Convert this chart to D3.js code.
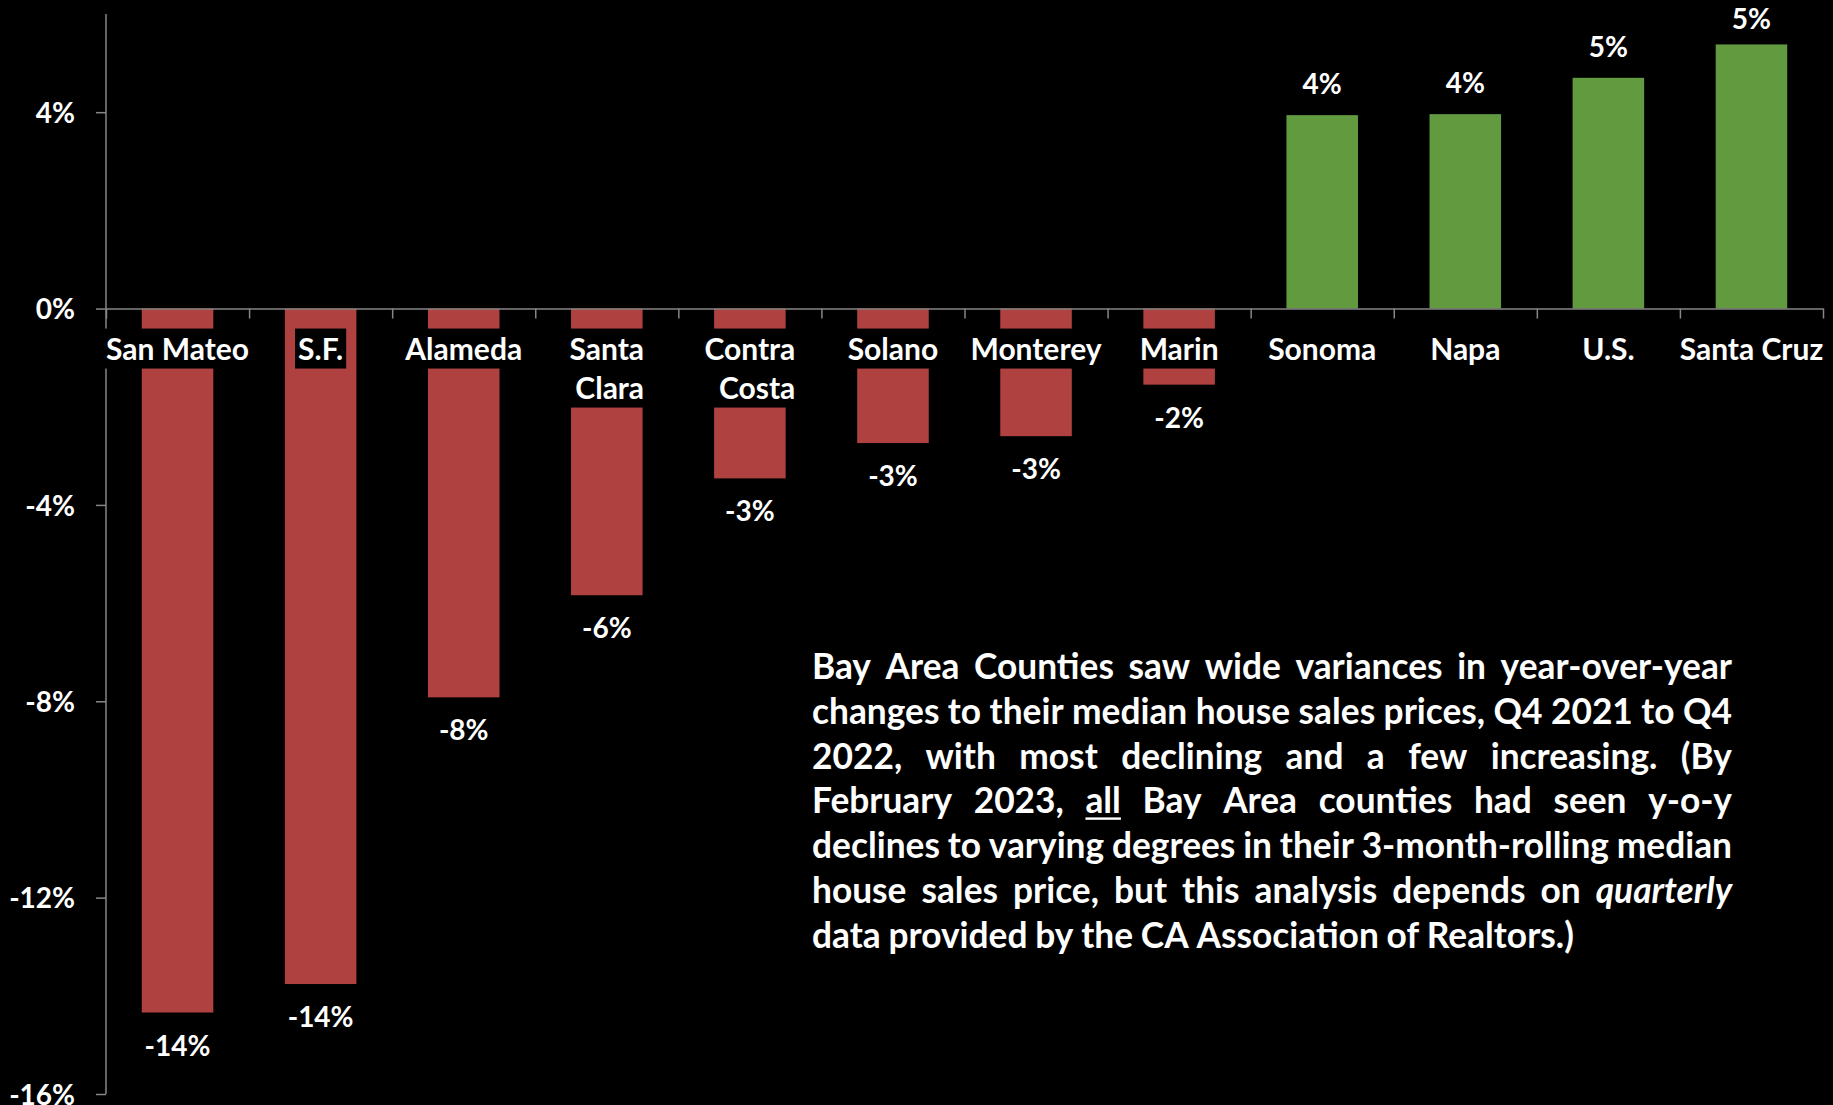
<!DOCTYPE html>
<html>
<head>
<meta charset="utf-8">
<script src="https://cdn.jsdelivr.net/npm/d3@7"></script>
<style>
  html, body { margin: 0; padding: 0; background: #000; }
  svg { display: block; }
  text { font-family: "Lato", "Open Sans", sans-serif; font-weight: 700; fill: #fff; }
</style>
</head>
<body>
<svg id="chart" width="1833" height="1105"></svg>
<script>
// Year-over-year change in median house sales price, Q4 2021 to Q4 2022
const categories = ["San Mateo", "S.F.", "Alameda", "Santa Clara", "Contra Costa", "Solano",
                    "Monterey", "Marin", "Sonoma", "Napa", "U.S.", "Santa Cruz"];
// how each category name wraps under the axis
const categoryLines = [["San Mateo"], ["S.F."], ["Alameda"], ["Santa", "Clara"], ["Contra", "Costa"],
                       ["Solano"], ["Monterey"], ["Marin"], ["Sonoma"], ["Napa"], ["U.S."], ["Santa Cruz"]];
const changes = [-0.1434, -0.1376, -0.0792, -0.0584, -0.0346, -0.0274,
                 -0.0260, -0.0155, 0.0394, 0.0396, 0.0470, 0.0538];
const yTicks = [-0.16, -0.12, -0.08, -0.04, 0, 0.04];

// commentary paragraph, one entry per justified line
const noteLines = [
  "Bay Area Counties saw wide variances in year-over-year",
  "changes to their median house sales prices, Q4 2021 to Q4",
  "2022, with most declining and a few increasing. (By",
  "February 2023, _all_ Bay Area counties had seen y-o-y",
  "declines to varying degrees in their 3-month-rolling median",
  "house sales price, but this analysis depends on *quarterly*",
  "data provided by the CA Association of Realtors.)"
];

const svg = d3.select("#chart");
const W = 1833, H = 1105;
svg.append("rect").attr("width", W).attr("height", H).attr("fill", "#000");

const plotLeft = 106, plotRight = 1823, plotTop = 14, plotBottom = 1094;
const RED = "#AF4240", GREEN = "#629A40", AXIS = "#868686";

const pct = d3.formatLocale({decimal: ".", thousands: ",", grouping: [3], currency: ["$", ""], minus: "-"}).format(".0%");

const y = d3.scaleLinear().domain([-0.16, 0.06]).range([plotBottom, plotTop]);
const x = d3.scaleBand().domain(categories).range([plotLeft, plotRight])
  .paddingInner(0.5).paddingOuter(0.25);
// category boundaries for the x-axis tick marks
const xEdge = d3.scaleLinear().domain([0, categories.length]).range([plotLeft, plotRight]);

// bars
svg.append("g").selectAll("rect")
  .data(categories.map((c, i) => ({c, v: changes[i]})))
  .join("rect")
  .attr("x", d => x(d.c))
  .attr("width", x.bandwidth())
  .attr("y", d => Math.min(y(d.v), y(0)))
  .attr("height", d => Math.abs(y(d.v) - y(0)))
  .attr("fill", d => d.v < 0 ? RED : GREEN);

// y axis
const yAxis = svg.append("g").attr("transform", `translate(${plotLeft},0)`)
  .call(d3.axisLeft(y).tickValues(yTicks).tickSize(10).tickPadding(21).tickFormat(pct));
yAxis.select(".domain").remove();
yAxis.append("line").attr("x1", 0).attr("x2", 0).attr("y1", plotTop).attr("y2", plotBottom)
  .attr("stroke", AXIS).attr("stroke-width", 1.5);
yAxis.selectAll(".tick line").attr("stroke", AXIS).attr("stroke-width", 1.5);
yAxis.selectAll(".tick text").attr("fill", "#fff").attr("dy", "0.36em")
  .style("font-size", "28px").style("font-family", "Lato, sans-serif").style("font-weight", 700);

// x axis along the zero line
const xAxis = svg.append("g").attr("transform", `translate(0,${y(0)})`)
  .call(d3.axisBottom(xEdge).tickValues(d3.range(categories.length + 1)).tickSize(10).tickSizeOuter(0).tickFormat(""));
xAxis.select(".domain").attr("stroke", AXIS).attr("stroke-width", 1.5);
xAxis.selectAll(".tick line").attr("stroke", AXIS).attr("stroke-width", 1.5);

// category labels on black boxes
const catFont = 30, catLine = 39, catBase = y(0) + 51;
const catG = svg.append("g");
categories.forEach((c, i) => {
  const g = catG.append("g");
  const box = g.append("rect").attr("fill", "#000");
  const t = g.append("text").style("font-size", catFont + "px").attr("text-anchor", "end");
  const spans = categoryLines[i].map((ln, j) =>
    t.append("tspan").attr("y", catBase + j * catLine).text(ln));
  const widths = spans.map(s => s.node().getComputedTextLength());
  const maxW = d3.max(widths);
  const cx = x(c) + x.bandwidth() / 2;
  spans.forEach(s => s.attr("x", cx + maxW / 2));
  box.attr("x", cx - maxW / 2 - 3).attr("width", maxW + 6)
    .attr("y", catBase - 31).attr("height", 40 + (categoryLines[i].length - 1) * catLine);
});

// value labels (kept inside the top edge)
svg.append("g").selectAll("text")
  .data(categories.map((c, i) => ({c, v: changes[i]})))
  .join("text")
  .attr("text-anchor", "middle")
  .style("font-size", "28px")
  .attr("x", d => x(d.c) + x.bandwidth() / 2)
  .attr("y", d => d.v < 0 ? y(d.v) + 43 : Math.max(y(d.v) - 21, 29))
  .text(d => pct(d.v));

// justified commentary paragraph, one text element per word
const noteLeft = 812, noteWidth = 920, noteBase = 679, noteLead = 44.8;
const baseFont = 26;
const noteG = svg.append("g").attr("transform", `translate(${noteLeft},0)`);
const laid = noteLines.map((ln, li) => {
  const words = ln.split(" ").map(w => {
    let txt = w, under = false, ital = false;
    if (/^_.*_$/.test(w)) { txt = w.slice(1, -1); under = true; }
    if (/^\*.*\*$/.test(w)) { txt = w.slice(1, -1); ital = true; }
    const s = noteG.append("text").attr("y", noteBase + li * noteLead)
      .style("font-size", baseFont + "px").text(txt);
    if (ital) s.style("font-style", "italic");
    return {s, under, w: s.node().getComputedTextLength()};
  });
  return {words, li};
});
// size the type so the fullest line just fills the column with ordinary spacing
const spaceEm = 0.22;
const needEm = d3.max(laid, L => d3.sum(L.words, w => w.w) / baseFont + (L.words.length - 1) * spaceEm);
const noteFont = noteWidth / needEm;
laid.forEach(L => {
  L.words.forEach(w => {
    w.s.style("font-size", noteFont + "px");
    w.w = w.s.node().getComputedTextLength();
  });
});
laid.forEach(L => {
  const n = L.words.length;
  const last = L.li === laid.length - 1;
  const gap = last ? spaceEm * noteFont : (noteWidth - d3.sum(L.words, w => w.w)) / (n - 1);
  let cx = 0;
  L.words.forEach(w => {
    w.s.attr("x", cx);
    if (w.under) {
      noteG.append("rect").attr("x", cx).attr("width", w.w)
        .attr("y", noteBase + L.li * noteLead + 4).attr("height", 2.4).attr("fill", "#fff");
    }
    cx += w.w + gap;
  });
});
</script>
</body>
</html>
